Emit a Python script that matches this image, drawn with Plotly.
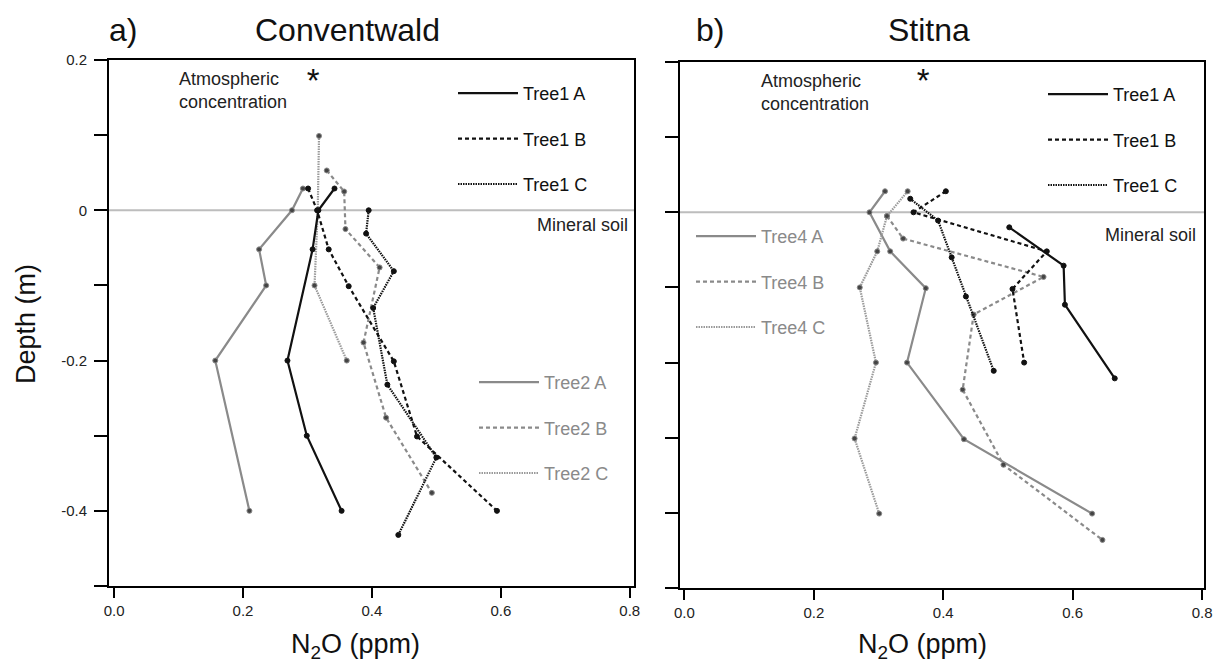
import plotly.graph_objects as go

# ---------------- data ----------------
# Conventwald (panel a)
cw_t1a_x = [0.342, 0.317, 0.308, 0.269, 0.299, 0.353]
cw_t1a_d = [0.029, 0.0, -0.052, -0.200, -0.300, -0.400]
cw_t1b_x = [0.301, 0.315, 0.333, 0.364, 0.434, 0.470, 0.594]
cw_t1b_d = [0.029, 0.0, -0.052, -0.101, -0.201, -0.301, -0.400]
cw_t1c_x = [0.395, 0.391, 0.434, 0.402, 0.424, 0.500, 0.441]
cw_t1c_d = [0.0, -0.031, -0.081, -0.130, -0.232, -0.329, -0.432]
cw_t2a_x = [0.293, 0.276, 0.225, 0.236, 0.157, 0.210]
cw_t2a_d = [0.029, 0.0, -0.052, -0.100, -0.200, -0.400]
cw_t2b_x = [0.330, 0.357, 0.359, 0.412, 0.387, 0.422, 0.493]
cw_t2b_d = [0.053, 0.025, -0.025, -0.076, -0.176, -0.276, -0.376]
cw_t2c_x = [0.318, 0.316, 0.311, 0.361]
cw_t2c_d = [0.099, 0.0, -0.100, -0.200]

# Stitna (panel b)
st_t1a_x = [0.502, 0.586, 0.588, 0.665]
st_t1a_d = [-0.020, -0.071, -0.123, -0.221]
st_t1b_x = [0.404, 0.354, 0.560, 0.507, 0.525]
st_t1b_d = [0.028, 0.0, -0.052, -0.102, -0.200]
st_t1c_x = [0.349, 0.392, 0.413, 0.435, 0.478]
st_t1c_d = [0.018, -0.011, -0.060, -0.112, -0.211]
st_t4a_x = [0.310, 0.286, 0.318, 0.373, 0.344, 0.432, 0.630]
st_t4a_d = [0.028, 0.0, -0.052, -0.101, -0.200, -0.302, -0.401]
st_t4b_x = [0.313, 0.338, 0.555, 0.447, 0.430, 0.493, 0.646]
st_t4b_d = [-0.005, -0.035, -0.086, -0.136, -0.236, -0.336, -0.436]
st_t4c_x = [0.345, 0.313, 0.298, 0.271, 0.296, 0.263, 0.301]
st_t4c_d = [0.028, -0.005, -0.052, -0.100, -0.200, -0.301, -0.401]

# atmospheric concentration markers
atm_x = [0.309, 0.369]
atm_d = [0.169, 0.171]

x_ticks = [0.0, 0.2, 0.4, 0.6, 0.8]
x_ticktext = ["0.0", "0.2", "0.4", "0.6", "0.8"]
y_ticks = [0.2, 0.1, 0.0, -0.1, -0.2, -0.3, -0.4, -0.5]
y_ticktext = ["0.2", " ", "0", " ", "-0.2", " ", "-0.4", " "]

FONT = "Liberation Sans, Arial, sans-serif"
BLACK = "#111111"
GREY = "#8a8a8a"
LGREY = "#9a9a9a"

dashes = {"A": "solid", "B": "4px,3px", "C": "1.5px,1px"}

fig = go.Figure()


def add_series(name, xs, ds, color, dashkey, xa, ya, legend, mcolor, mline):
    fig.add_trace(go.Scatter(
        x=xs, y=ds, mode="lines", name=name,
        line=dict(color=color, width=2.2, dash=dashes[dashkey]),
        xaxis=xa, yaxis=ya, legend=legend, legendgroup=legend + name,
        showlegend=True,
    ))
    fig.add_trace(go.Scatter(
        x=xs, y=ds, mode="markers", name=name,
        marker=dict(color=mcolor, size=5, line=dict(color=mline, width=1)),
        xaxis=xa, yaxis=ya, showlegend=False, hoverinfo="skip",
    ))


# panel a
add_series("Tree2 A", cw_t2a_x, cw_t2a_d, GREY, "A", "x", "y", "legend2", "#444", GREY)
add_series("Tree2 B", cw_t2b_x, cw_t2b_d, GREY, "B", "x", "y", "legend2", "#444", GREY)
add_series("Tree2 C", cw_t2c_x, cw_t2c_d, LGREY, "C", "x", "y", "legend2", "#444", GREY)
add_series("Tree1 A", cw_t1a_x, cw_t1a_d, BLACK, "A", "x", "y", "legend", "#111", "#111")
add_series("Tree1 B", cw_t1b_x, cw_t1b_d, BLACK, "B", "x", "y", "legend", "#111", "#111")
add_series("Tree1 C", cw_t1c_x, cw_t1c_d, BLACK, "C", "x", "y", "legend", "#111", "#111")
# panel b
add_series("Tree4 A", st_t4a_x, st_t4a_d, GREY, "A", "x2", "y2", "legend4", "#444", GREY)
add_series("Tree4 B", st_t4b_x, st_t4b_d, GREY, "B", "x2", "y2", "legend4", "#444", GREY)
add_series("Tree4 C", st_t4c_x, st_t4c_d, LGREY, "C", "x2", "y2", "legend4", "#444", GREY)
add_series("Tree1 A", st_t1a_x, st_t1a_d, BLACK, "A", "x2", "y2", "legend3", "#111", "#111")
add_series("Tree1 B", st_t1b_x, st_t1b_d, BLACK, "B", "x2", "y2", "legend3", "#111", "#111")
add_series("Tree1 C", st_t1c_x, st_t1c_d, BLACK, "C", "x2", "y2", "legend3", "#111", "#111")

# atmospheric concentration asterisks
for i, (xa, ya) in enumerate([("x", "y"), ("x2", "y2")]):
    fig.add_trace(go.Scatter(
        x=[atm_x[i]], y=[atm_d[i]], mode="text", text=["*"],
        textfont=dict(size=33, color="#111", family=FONT),
        textposition="middle center", xaxis=xa, yaxis=ya,
        showlegend=False, hoverinfo="skip",
    ))

axis_common = dict(
    showline=True, linecolor="black", linewidth=2, mirror=True,
    showgrid=False, zeroline=False, ticks="outside", tickcolor="black",
    tickwidth=1.5, tickfont=dict(size=15, color="#222", family=FONT),
)

fig.update_layout(
    width=1225, height=666,
    margin=dict(l=0, r=0, t=0, b=0, autoexpand=False),
    paper_bgcolor="white", plot_bgcolor="white",
    font=dict(family=FONT, color="#111"),
    xaxis=dict(domain=[0.0890, 0.5176], range=[-0.0078, 0.8067], anchor="y",
               tickvals=x_ticks, ticktext=x_ticktext, ticklen=10, **axis_common),
    yaxis=dict(domain=[0.1201, 0.9099], range=[-0.5, 0.2], anchor="x",
               tickvals=y_ticks, ticktext=y_ticktext, ticklen=13, ticklabelstandoff=4,
               **axis_common),
    xaxis2=dict(domain=[0.5551, 0.9829], range=[-0.0068, 0.803], anchor="y2",
                tickvals=x_ticks, ticktext=x_ticktext, ticklen=10, **axis_common),
    yaxis2=dict(domain=[0.1171, 0.9069], range=[-0.5, 0.2], anchor="x2",
                tickvals=y_ticks, showticklabels=False, ticklen=13, **axis_common),
)

leg_common = dict(bgcolor="rgba(0,0,0,0)", borderwidth=0, xanchor="left", yanchor="top",
                  xref="container", yref="container",
                  itemwidth=60, tracegroupgap=19, traceorder="grouped", itemclick=False,
                  itemdoubleclick=False)
fig.update_layout(
    legend=dict(x=453 / 1225, y=1 - 75 / 666, font=dict(size=18, color="#111", family=FONT), **leg_common),
    legend2=dict(x=474 / 1225, y=1 - 364 / 666, font=dict(size=18, color=GREY, family=FONT), **leg_common),
    legend3=dict(x=1043 / 1225, y=1 - 76 / 666, font=dict(size=18, color="#111", family=FONT), **leg_common),
    legend4=dict(x=691 / 1225, y=1 - 218 / 666, font=dict(size=18, color=GREY, family=FONT), **leg_common),
)

# reference line at the mineral soil surface
for xr, yr in [("x domain", "y"), ("x2 domain", "y2")]:
    fig.add_shape(type="line", xref=xr, yref=yr, x0=0, x1=1, y0=0, y1=0,
                  line=dict(color="#bdbdbd", width=2), layer="below")

annos = [
    dict(text="Atmospheric<br>concentration", x=0.098, y=0.159, xref="x", yref="y"),
    dict(text="Atmospheric<br>concentration", x=0.115, y=0.159, xref="x2", yref="y2"),
]
for a in annos:
    fig.add_annotation(text=a["text"], x=a["x"], y=a["y"], xref=a["xref"], yref=a["yref"],
                       xanchor="left", yanchor="middle", align="left", showarrow=False,
                       font=dict(size=18, color="#222", family=FONT))

for xr, yr, xv, yv in [("x", "y", 0.800, -0.020), ("x2", "y2", 0.794, -0.030)]:
    fig.add_annotation(text="Mineral soil", x=xv, y=yv, xref=xr, yref=yr,
                       xanchor="right", yanchor="middle", showarrow=False,
                       font=dict(size=18, color="#222", family=FONT))

titles = [("a)", 123), ("Conventwald", 347), ("b)", 710), ("Stitna", 929)]
for t, px in titles:
    fig.add_annotation(text=t, x=px / 1225, y=1 - 30 / 666, xref="paper", yref="paper",
                       xanchor="center", yanchor="middle", showarrow=False,
                       font=dict(size=32, color="#111", family=FONT))

# axis titles
for px in (355, 922):
    fig.add_annotation(text="N<sub>2</sub>O (ppm)", x=px / 1225, y=1 - 646 / 666,
                       xref="paper", yref="paper", xanchor="center", yanchor="middle",
                       showarrow=False, font=dict(size=27, color="#111", family=FONT))
fig.add_annotation(text="Depth (m)", x=26 / 1225, y=1 - 324 / 666, xref="paper", yref="paper",
                   xanchor="center", yanchor="middle", textangle=-90, showarrow=False,
                   font=dict(size=27, color="#111", family=FONT))

fig.write_html("out.html")
